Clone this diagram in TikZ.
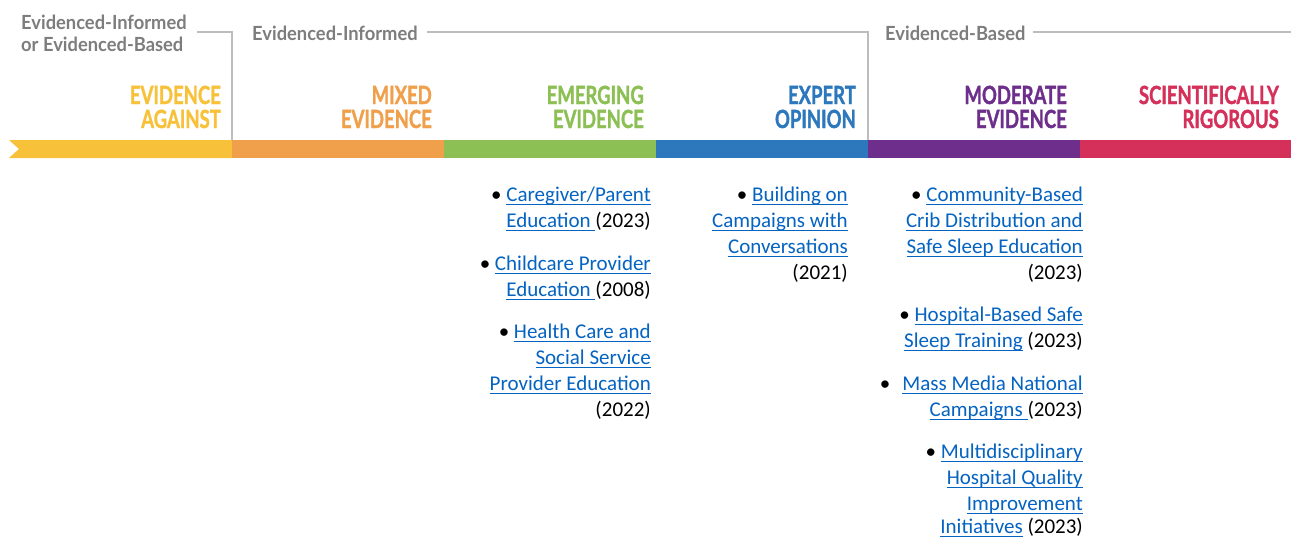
\documentclass[tikz,border=0pt]{standalone}
\usepackage{fontspec}
\usepackage{graphicx}
\setmainfont{Carlito}
\newfontfamily\hdrfam{Lato}
\newfontfamily\catfam{Lato}[BoldFeatures={FakeBold=1.6}]
\definecolor{cyel}{HTML}{F8C13A}
\definecolor{cora}{HTML}{F0A04B}
\definecolor{cgrn}{HTML}{8CC054}
\definecolor{cblu}{HTML}{2D78BD}
\definecolor{cpur}{HTML}{6D2F8B}
\definecolor{cred}{HTML}{D5305A}
\definecolor{hgray}{HTML}{7D7D7D}
\definecolor{lgray}{HTML}{BDBDBD}
\definecolor{linkblue}{HTML}{0563C1}
\newsavebox\lkbox
\newcommand\lk[1]{{\color{linkblue}\sbox\lkbox{#1}\rlap{\rule[-4.2pt]{\wd\lkbox}{1.4pt}}\usebox\lkbox}}
\newcommand\cx[1]{\scalebox{0.74}[1]{#1}}
\newcommand\hx[1]{\scalebox{0.94}[1]{#1}}
\tikzset{
  hdr/.style={anchor=base west, inner sep=0pt, text=hgray, font=\hdrfam\bfseries\fontsize{19.5}{22}\selectfont},
  cat/.style={anchor=base east, inner sep=0pt, font=\catfam\bfseries\fontsize{25}{24}\selectfont},
  ln/.style={anchor=base east, inner sep=0pt, text=black, font=\fontsize{21}{26}\selectfont},
  gline/.style={draw=lgray, line width=1.5pt},
}
\begin{document}
\begin{tikzpicture}[x=1pt,y=-1pt]
\useasboundingbox[fill=white] (0,0) rectangle (1291,538);
% bar
\fill[cyel] (9,140) -- (232,140) -- (232,158) -- (9,158) -- (19,149) -- cycle;
\fill[cora] (232,140) rectangle (444,158);
\fill[cgrn] (444,140) rectangle (656,158);
\fill[cblu] (656,140) rectangle (868,158);
\fill[cpur] (868,140) rectangle (1080,158);
\fill[cred] (1080,140) rectangle (1291,158);
% group headers
\node[hdr] (g1a) at (21,29) {\hx{Evidenced-Informed}};
\node[hdr] (g1b) at (21,51) {\hx{or Evidenced-Based}};
\node[hdr] (g2) at (252,40) {\hx{Evidenced-Informed}};
\node[hdr] (g3) at (885,40) {\hx{Evidenced-Based}};
\coordinate (l1s) at (197,32);
\coordinate (l1c) at (232,32);
\coordinate (l1e) at (232,140);
\coordinate (l2s) at (427,32);
\coordinate (l2c) at (868,32);
\coordinate (l2e) at (868,140);
\coordinate (l3s) at (1033,32);
\coordinate (l3e) at (1291,32);
\draw[gline] (l1s) -- (l1c) -- (l1e);
\draw[gline] (l2s) -- (l2c) -- (l2e);
\draw[gline] (l3s) -- (l3e);
% categories
\node[cat, text=cyel] (c1a) at (221,104) {\cx{EVIDENCE}};
\node[cat, text=cyel] (c1b) at (221,128) {\cx{AGAINST}};
\node[cat, text=cora] (c2a) at (432,104) {\cx{MIXED}};
\node[cat, text=cora] (c2b) at (432,128) {\cx{EVIDENCE}};
\node[cat, text=cgrn] (c3a) at (644,104) {\cx{EMERGING}};
\node[cat, text=cgrn] (c3b) at (644,128) {\cx{EVIDENCE}};
\node[cat, text=cblu] (c4a) at (856,104) {\cx{EXPERT}};
\node[cat, text=cblu] (c4b) at (856,128) {\cx{OPINION}};
\node[cat, text=cpur] (c5a) at (1067,104) {\cx{MODERATE}};
\node[cat, text=cpur] (c5b) at (1067,128) {\cx{EVIDENCE}};
\node[cat, text=cred] (c6a) at (1279,104) {\cx{SCIENTIFICALLY}};
\node[cat, text=cred] (c6b) at (1279,128) {\cx{RIGOROUS}};
% emerging evidence items
\node[ln] (e1) at (651,201) {• \lk{Caregiver/Parent}};
\node[ln] (e2) at (651,227) {\lk{Education\ }(2023)};
\node[ln] (e3) at (651,270) {• \lk{Childcare Provider}};
\node[ln] (e4) at (651,296) {\lk{Education\ }(2008)};
\node[ln] (e5) at (651,338) {• \lk{Health Care and}};
\node[ln] (e6) at (651,364) {\lk{Social Service}};
\node[ln] (e7) at (651,390) {\lk{Provider Education}};
\node[ln] (e8) at (651,416) {(2022)};
% expert opinion items
\node[ln] (x1) at (848,201) {• \lk{Building on}};
\node[ln] (x2) at (848,227) {\lk{Campaigns with}};
\node[ln] (x3) at (848,253) {\lk{Conversations}};
\node[ln] (x4) at (848,279) {(2021)};
% moderate evidence items
\node[ln] (m1) at (1083,201) {• \lk{Community-Based}};
\node[ln] (m2) at (1083,227) {\lk{Crib Distribution and}};
\node[ln] (m3) at (1083,253) {\lk{Safe Sleep Education}};
\node[ln] (m4) at (1083,279) {(2023)};
\node[ln] (m5) at (1083,321) {• \lk{Hospital-Based Safe}};
\node[ln] (m6) at (1083,347) {\lk{Sleep Training} (2023)};
\node[ln] (m7) at (1083,390) {•\hspace{12pt}\lk{Mass Media National}};
\node[ln] (m8) at (1083,416) {\lk{Campaigns\ }(2023)};
\node[ln] (m9) at (1083,458) {• \lk{Multidisciplinary}};
\node[ln] (m10) at (1083,484) {\lk{Hospital Quality}};
\node[ln] (m11) at (1083,510) {\lk{Improvement}};
\node[ln] (m12) at (1083,533) {\lk{Initiatives} (2023)};
\end{tikzpicture}
\end{document}
